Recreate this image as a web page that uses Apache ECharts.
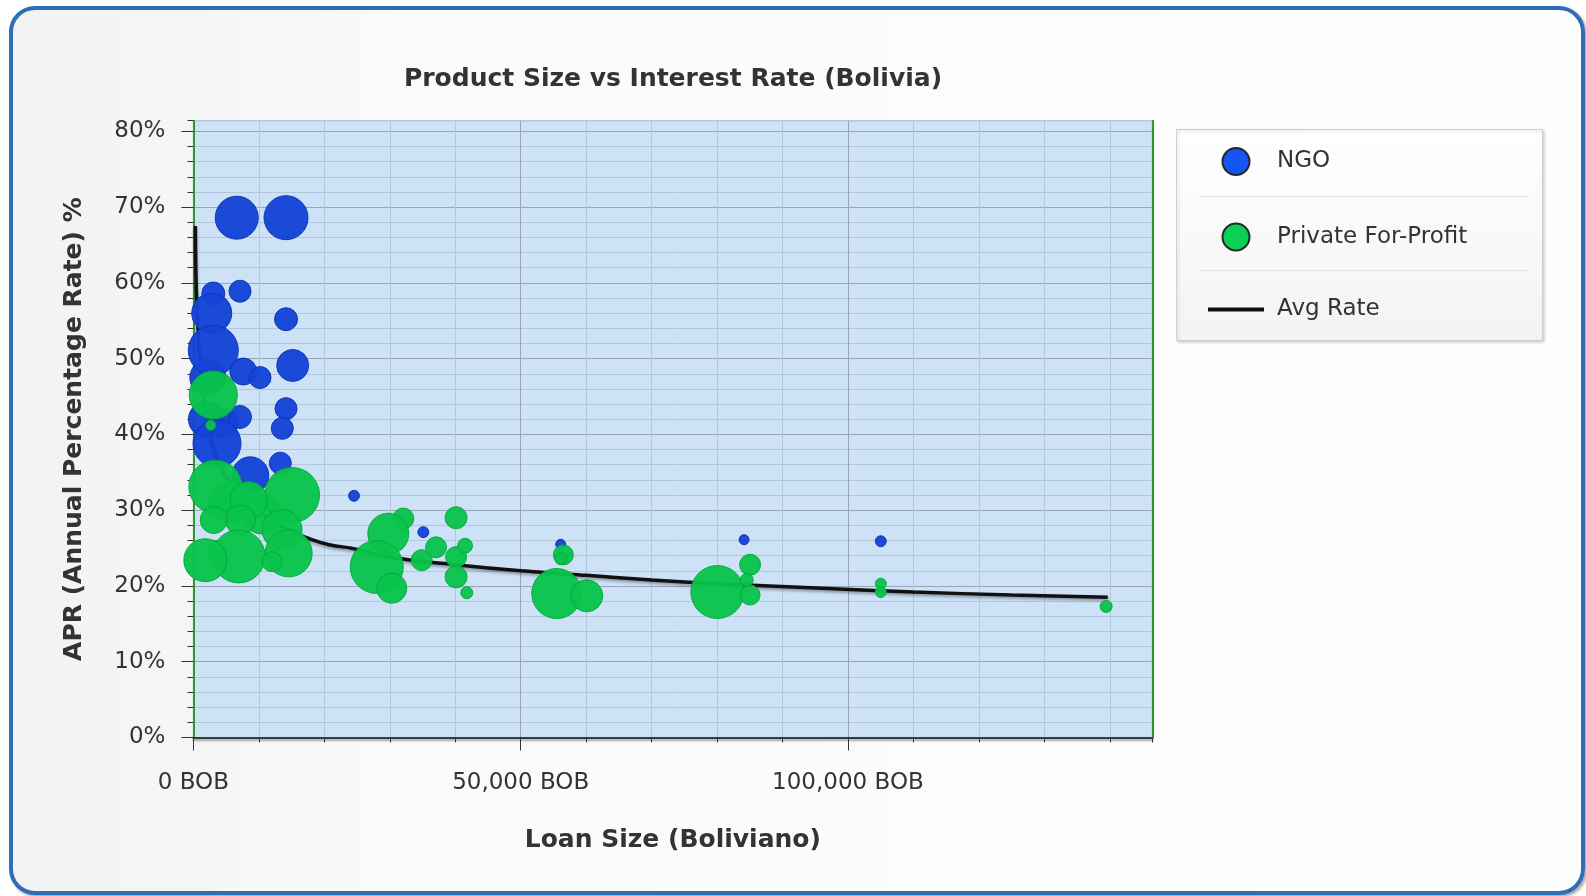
<!DOCTYPE html>
<html>
<head>
<meta charset="utf-8">
<title>Product Size vs Interest Rate (Bolivia)</title>
<script src="https://cdn.jsdelivr.net/npm/echarts@6/dist/echarts.min.js"></script>
<style>
html, body {
    margin: 0;
    padding: 0;
    width: 1586px;
    height: 896px;
    overflow: hidden;
    background: #ffffff;
}
.chart-frame {
    position: absolute;
    left: 9px;
    top: 6px;
    width: 1576px;
    height: 889px;
    box-sizing: border-box;
    border: 4px solid #2f6db6;
    border-radius: 26px;
    background: linear-gradient(to right, #f2f2f2 0%, #fafafa 25%, #fefefe 100%);
    box-shadow: 2px 2px 3px rgba(0, 0, 0, 0.35);
}
#chart {
    position: absolute;
    left: 0;
    top: 0;
    width: 1586px;
    height: 896px;
}
</style>
</head>
<body>
<div class="chart-frame"></div>
<div id="chart"></div>
<script>
// NGO products: loan size (BOB), APR (%), volume (bubble size)
const ngoLoan = [6620, 14150, 2200, 2000, 4500, 7120, 3040, 2800, 14150, 3040, 7620, 10180, 15170, 7120, 14150, 13580, 3610, 8690, 13280, 24540, 35130, 56120, 84130, 105020]
const ngoApr = [68.6, 68.6, 47.5, 42.0, 41.5, 58.9, 58.6, 56.0, 55.2, 51.1, 48.3, 47.5, 49.1, 42.3, 43.4, 40.8, 38.8, 34.6, 36.2, 31.9, 27.1, 25.5, 26.1, 25.9]
const ngoVolume = [462, 484, 324, 324, 225, 121, 132, 400, 132, 625, 182, 121, 256, 132, 121, 121, 576, 342, 121, 30, 30, 25, 25, 30]

// Private For-Profit products
const pfpLoan = [3040, 2640, 5500, 10500, 3350, 15070, 8450, 7170, 3100, 13540, 3610, 6920, 14560, 12010, 1820, 32070, 29780, 28010, 30300, 34880, 37070, 40130, 40130, 40130, 41500, 41760, 55510, 56520, 56120, 60100, 80050, 85050, 85050, 84540, 105020, 105020, 139450]
const pfpApr = [45.2, 41.2, 31.0, 29.5, 33.1, 32.0, 31.3, 28.7, 28.7, 27.4, 24.7, 23.9, 24.3, 23.2, 23.4, 28.9, 26.9, 22.5, 19.7, 23.4, 25.1, 29.0, 23.8, 21.2, 25.3, 19.1, 19.0, 24.1, 23.6, 18.7, 19.2, 22.8, 18.8, 20.8, 20.3, 19.2, 17.3]
const pfpVolume = [576, 25, 400, 400, 702, 756, 342, 225, 182, 400, 100, 702, 552, 100, 462, 110, 420, 702, 225, 110, 110, 121, 110, 121, 56, 36, 625, 100, 36, 256, 702, 110, 100, 42, 30, 30, 36]

// average rate curve
const avgLoan = [300, 500, 1500, 4000, 9000, 14000, 18100, 20900, 24000, 30000, 40000, 50000, 60000, 70000, 80000, 96000, 110000, 125000, 139700]
const avgApr = [67.5, 58.0, 45.0, 36.0, 30.5, 27.6, 26.1, 25.4, 25.0, 23.8, 22.8, 22.0, 21.4, 20.8, 20.3, 19.7, 19.2, 18.8, 18.5]

// axis ticks
const xMax = 146500
const yMax = 81.4
const xLabelTicks = [0, 50000, 100000]
const yLabelTicks = [0, 10, 20, 30, 40, 50, 60, 70, 80]

const FONT = 'DejaVu Sans'
const zip3 = (a, b, c) => a.map((v, i) => [v, b[i], c[i]])
const zip2 = (a, b) => a.map((v, i) => [v, b[i]])

const myCharts = echarts.init(document.getElementById('chart'))

const option = {
    animation: false,
    title: {
        text: 'Product Size vs Interest Rate (Bolivia)',
        left: 673,
        top: 67,
        textAlign: 'center',
        padding: 0,
        textStyle: {
            fontFamily: FONT,
            fontSize: 25,
            fontWeight: 'bold',
            color: '#333333'
        }
    },
    grid: {
        left: 193.4,
        right: 433.7,
        top: 120.7,
        bottom: 158.5,
        containLabel: false,
        outerBoundsMode: 'none',
        show: true,
        backgroundColor: '#cde2f7',
        borderColor: '#8fa0ae',
        borderWidth: 1
    },
    legend: {
        orient: 'vertical',
        left: 1208,
        top: 147,
        padding: 0,
        itemWidth: 56,
        itemHeight: 27,
        itemGap: 46.5,
        textStyle: {
            fontFamily: FONT,
            fontSize: 23,
            color: '#333333',
            padding: [0, 0, 0, 8]
        },
        data: [
            { name: 'NGO', icon: 'circle', itemStyle: { color: '#0a4ef2', borderColor: '#222222', borderWidth: 2 } },
            { name: 'Private For-Profit', icon: 'circle', itemStyle: { color: '#00cf4c', borderColor: '#222222', borderWidth: 2 } },
            { name: 'Avg Rate', icon: 'path://M0,0 L56,0 L56,4 L0,4 Z', itemStyle: { color: '#111111', borderWidth: 0 } }
        ]
    },
    graphic: [
        {
            type: 'rect',
            silent: true,
            shape: { x: 1176.5, y: 129.5, width: 366, height: 211 },
            style: {
                fill: new echarts.graphic.LinearGradient(0, 0, 0, 1, [
                    { offset: 0, color: '#ffffff' },
                    { offset: 1, color: '#f3f3f3' }
                ]),
                stroke: '#cfcfcf',
                lineWidth: 1,
                shadowColor: 'rgba(0,0,0,0.18)',
                shadowBlur: 3,
                shadowOffsetX: 1.5,
                shadowOffsetY: 1.5
            }
        },
        {
            type: 'line',
            silent: true,
            shape: { x1: 1200, y1: 196.5, x2: 1528, y2: 196.5 },
            style: { stroke: '#e2e2e2', lineWidth: 1 }
        },
        {
            type: 'line',
            silent: true,
            shape: { x1: 1200, y1: 270.5, x2: 1528, y2: 270.5 },
            style: { stroke: '#e2e2e2', lineWidth: 1 }
        }
    ],
    xAxis: [{
        // minor grid every 10,000
        type: 'value',
        min: 0,
        max: xMax,
        interval: 10000,
        axisLine: {
            show: true,
            lineStyle: {
                color: '#3a3a3a',
                width: 2,
                shadowColor: 'rgba(0,0,0,0.35)',
                shadowBlur: 2,
                shadowOffsetY: 2
            }
        },
        axisTick: { show: true, length: 5, lineStyle: { color: '#333333' } },
        axisLabel: { show: false },
        splitLine: { show: true, lineStyle: { color: '#b3c7dc', width: 1 } }
    }, {
        // labelled ticks every 50,000
        type: 'value',
        position: 'bottom',
        min: 0,
        max: xMax,
        interval: 50000,
        name: 'Loan Size (Boliviano)',
        nameLocation: 'middle',
        nameGap: 90,
        nameTextStyle: {
            fontFamily: FONT,
            fontSize: 25,
            fontWeight: 'bold',
            color: '#333333'
        },
        axisLine: { show: false },
        axisTick: { show: true, length: 13, customValues: xLabelTicks, lineStyle: { color: '#333333' } },
        axisLabel: {
            show: true,
            customValues: xLabelTicks,
            margin: 34,
            fontFamily: FONT,
            fontSize: 23,
            color: '#333333',
            formatter: v => echarts.format.addCommas(v) + ' BOB'
        },
        splitLine: { show: true, lineStyle: { color: '#95a6b7', width: 1 } }
    }],
    yAxis: [{
        // minor grid every 2%
        type: 'value',
        min: 0,
        max: yMax,
        interval: 2,
        axisLine: { show: true, lineStyle: { color: '#2a9a2a', width: 2 } },
        axisTick: { show: true, length: 6, lineStyle: { color: '#333333' } },
        axisLabel: { show: false },
        splitLine: { show: true, lineStyle: { color: '#b3c7dc', width: 1 } }
    }, {
        type: 'value',
        position: 'left',
        min: 0,
        max: yMax,
        interval: 10,
        name: 'APR (Annual Percentage Rate) %',
        nameLocation: 'middle',
        nameGap: 106,
        nameTextStyle: {
            fontFamily: FONT,
            fontSize: 25,
            fontWeight: 'bold',
            color: '#333333'
        },
        axisLine: { show: false },
        axisTick: { show: true, length: 12, customValues: yLabelTicks, lineStyle: { color: '#333333' } },
        axisLabel: {
            show: true,
            customValues: yLabelTicks,
            margin: 28,
            padding: [5, 0, 0, 0],
            fontFamily: FONT,
            fontSize: 23,
            color: '#333333',
            formatter: '{value}%'
        },
        splitLine: { show: true, lineStyle: { color: '#95a6b7', width: 1 } }
    }, {
        // green right edge of the plot
        type: 'value',
        position: 'right',
        min: 0,
        max: yMax,
        axisLine: { show: true, lineStyle: { color: '#2a9a2a', width: 2 } },
        axisTick: { show: false },
        axisLabel: { show: false },
        splitLine: { show: false }
    }],
    series: [{
        name: 'NGO',
        type: 'scatter',
        xAxisIndex: 0,
        yAxisIndex: 0,
        data: zip3(ngoLoan, ngoApr, ngoVolume),
        symbolSize: d => Math.sqrt(d[2]) * 2,
        itemStyle: {
            color: '#1444d6',
            borderColor: '#0d35b2',
            borderWidth: 1,
            opacity: 0.96
        },
        z: 3
    }, {
        name: 'Private For-Profit',
        type: 'scatter',
        xAxisIndex: 0,
        yAxisIndex: 0,
        data: zip3(pfpLoan, pfpApr, pfpVolume),
        symbolSize: d => Math.sqrt(d[2]) * 2,
        itemStyle: {
            color: '#08c44b',
            borderColor: '#06a83e',
            borderWidth: 1,
            opacity: 0.96
        },
        z: 4
    }, {
        name: 'Avg Rate',
        type: 'line',
        xAxisIndex: 0,
        yAxisIndex: 0,
        data: zip2(avgLoan, avgApr),
        symbol: 'none',
        smooth: 0.3,
        lineStyle: {
            color: '#111111',
            width: 3.5,
            shadowColor: 'rgba(0,0,0,0.35)',
            shadowBlur: 3,
            shadowOffsetY: 2
        },
        itemStyle: { color: '#111111' },
        z: 2
    }]
}

myCharts.setOption(option)
</script>
</body>
</html>
